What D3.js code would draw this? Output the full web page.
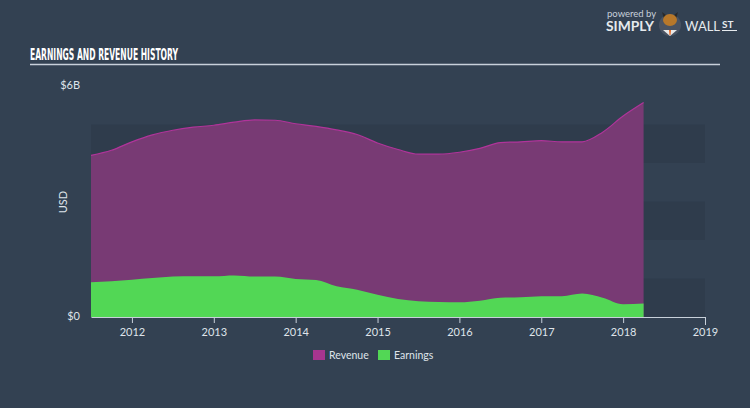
<!DOCTYPE html>
<html><head><meta charset="utf-8">
<script src="https://cdn.jsdelivr.net/npm/d3@7"></script>
<style>
html,body{margin:0;padding:0;background:#334152;}
svg{display:block;}
</style></head>
<body>
<svg id="c" width="750" height="408"></svg>
<script>
const periods = [2011.5,2011.75,2012,2012.25,2012.5,2012.75,2013,2013.25,2013.5,2013.75,2014,2014.25,2014.5,2014.75,2015,2015.25,2015.5,2015.75,2016,2016.25,2016.5,2016.75,2017,2017.25,2017.5,2017.75,2018,2018.25];
const revenue = [4.20,4.33,4.55,4.73,4.85,4.93,4.98,5.06,5.12,5.11,5.02,4.95,4.86,4.74,4.52,4.35,4.23,4.23,4.28,4.38,4.53,4.55,4.58,4.55,4.55,4.80,5.22,5.57];
const earnings = [0.90,0.93,0.97,1.01,1.05,1.06,1.06,1.08,1.05,1.05,0.99,0.96,0.80,0.71,0.58,0.47,0.41,0.39,0.38,0.42,0.50,0.51,0.54,0.54,0.61,0.50,0.33,0.35];
const xTicks = [2012,2013,2014,2015,2016,2017,2018,2019];
const yTickLabels = ["$0","$6B"];
const legendItems = ["Revenue","Earnings"];

const svg = d3.select("#c");
const W=750,H=408;
svg.append("rect").attr("width",W).attr("height",H).attr("fill","#334152");

const x = d3.scaleLinear().domain([2011.5,2019]).range([91,705]);
const y = d3.scaleLinear().domain([0,6]).range([317,86]);

// bands
const bands = svg.append("g");
[0,2,4].forEach(b=>{
  bands.append("rect").attr("x",x(2011.5)).attr("width",x(2019)-x(2011.5))
    .attr("y",y(b+1)).attr("height",y(b)-y(b+1)).attr("fill","#2f3c4c");
});

// title
svg.append("text").attr("x",30).attr("y",59.5).text("EARNINGS AND REVENUE HISTORY")
  .attr("font-family","DejaVu Sans Condensed, DejaVu Sans").attr("font-weight","bold")
  .attr("font-size",16).attr("fill","#ffffff").attr("textLength",148).attr("lengthAdjust","spacingAndGlyphs");
svg.append("line").attr("x1",30).attr("x2",720).attr("y1",64.5).attr("y2",64.5).attr("stroke","#c8d0da").attr("stroke-width",1.5);

// logo
svg.append("text").attr("x",607).attr("y",17).text("powered by").attr("font-family","Lato, Open Sans").attr("font-size",9.5).attr("fill","#c8d0da");
svg.append("text").attr("x",606).attr("y",31).text("SIMPLY").attr("font-family","Lato, Open Sans").attr("font-weight","bold").attr("font-size",13).attr("fill","#e6eaee").attr("textLength",48).attr("lengthAdjust","spacingAndGlyphs");
svg.append("circle").attr("cx",670).attr("cy",25).attr("r",11).attr("fill","#4a5362");
svg.append("path").attr("d","M662,12 L664,19 L666,15 Z M678,12 L676,19 L674,15 Z").attr("fill","#2a2a2a");
svg.append("ellipse").attr("cx",670).attr("cy",20).attr("rx",7).attr("ry",6).attr("fill","#b8782a");
svg.append("path").attr("d","M663,30 L670,36 L677,30 Z").attr("fill","#e9e9e9");
svg.append("path").attr("d","M669,30 L671,30 L670.5,35 L669.5,35 Z").attr("fill","#e8641e");
svg.append("text").attr("x",685).attr("y",31).text("WALL").attr("font-family","Lato, Open Sans").attr("font-size",13).attr("fill","#e6eaee").attr("textLength",35).attr("lengthAdjust","spacingAndGlyphs");
svg.append("text").attr("x",722).attr("y",28).text("ST").attr("font-family","Lato, Open Sans").attr("font-weight","bold").attr("font-size",10).attr("fill","#e6eaee");
svg.append("line").attr("x1",722).attr("x2",737).attr("y1",30.5).attr("y2",30.5).attr("stroke","#e6eaee").attr("stroke-width",1);

// areas
const rev = periods.map((p,i)=>({p,v:revenue[i]}));
const ear = periods.map((p,i)=>({p,v:earnings[i]}));
const area = d3.area().x(d=>x(d.p)).y0(y(0)).y1(d=>y(d.v)).curve(d3.curveMonotoneX);
const line = d3.line().x(d=>x(d.p)).y(d=>y(d.v)).curve(d3.curveMonotoneX);
svg.append("path").datum(rev).attr("d",area).attr("fill","#783a74");
svg.append("path").datum(rev).attr("d",line).attr("fill","none").attr("stroke","#b0349a").attr("stroke-width",1.2);
svg.append("path").datum(ear).attr("d",area).attr("fill","#52d755");

// x axis
const xa = svg.append("g").attr("transform","translate(0,317)")
  .call(d3.axisBottom(x).tickValues(xTicks).tickFormat(d3.format("d")).tickSize(6).tickSizeOuter(0));
xa.select(".domain").attr("stroke","#c8d0da").attr("stroke-width",1.2);
xa.selectAll(".tick line").attr("stroke","#c8d0da");
xa.selectAll("text").attr("fill","#dfe4ea").attr("font-family","Lato, Open Sans").attr("font-size",11).attr("dy","0.9em");
xa.selectAll(".tick").filter(d=>d===2019).select("line").attr("y2",8);

// y labels
svg.append("text").attr("x",80).attr("y",320).attr("text-anchor","end").text(yTickLabels[0]).attr("font-family","Lato, Open Sans").attr("font-size",11).attr("fill","#dfe4ea");
svg.append("text").attr("x",80).attr("y",89).attr("text-anchor","end").text(yTickLabels[1]).attr("font-family","Lato, Open Sans").attr("font-size",11).attr("fill","#dfe4ea");
svg.append("text").attr("transform","translate(67,202) rotate(-90)").attr("text-anchor","middle").text("USD").attr("font-family","Lato, Open Sans").attr("font-size",11).attr("fill","#dfe4ea");

// legend
const legColors = ["#a8358f","#52d755"];
const legX = [313,378];
legendItems.forEach((t,i)=>{
  svg.append("rect").attr("x",legX[i]).attr("y",350).attr("width",12).attr("height",10).attr("fill",legColors[i]);
  svg.append("text").attr("x",legX[i]+16).attr("y",359).text(t).attr("font-family","Lato, Open Sans").attr("font-size",10.5).attr("fill","#dfe4ea");
});
</script>
</body></html>
